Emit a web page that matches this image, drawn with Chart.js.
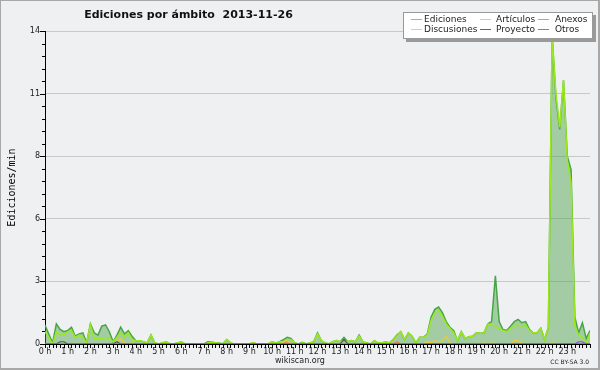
<!DOCTYPE html>
<html><head><meta charset="utf-8">
<script src="https://cdn.jsdelivr.net/npm/chart.js@4.4.0/dist/chart.umd.min.js"></script>
<style>
body{margin:0;background:#fff}
#wrap{position:relative;width:600px;height:370px;background:#eff0f1;overflow:hidden}
canvas{position:absolute;left:0;top:0}
.frame{position:absolute;left:0;top:0;width:600px;height:370px;box-sizing:border-box;border:1px solid #a8a8a8;border-right-width:2px;border-bottom-width:2px;pointer-events:none}
#title{position:absolute;left:60px;width:257px;top:8px;text-align:center;font:bold 11px "DejaVu Sans";line-height:14px;color:#111;white-space:pre}
#legend{position:absolute;left:403px;top:12px;width:188px;height:25px;background:#fff;border:1px solid #999;box-shadow:3px 3px 0 #9a9a9a}
.it{position:absolute;font:9px "DejaVu Sans";color:#222;line-height:10px;white-space:nowrap}
.ln{position:absolute;height:1px;width:11px}
#foot{position:absolute;left:200px;width:200px;top:356px;text-align:center;font:8px "DejaVu Sans";line-height:10px;color:#222}
#cc{position:absolute;right:11px;top:358px;font:6px "DejaVu Sans";line-height:8px;color:#222}
</style></head>
<body>
<div id="wrap">
<canvas id="c" width="600" height="370"></canvas>
<div id="title">Ediciones por ámbito  2013-11-26</div>
<div id="legend"></div>
<div id="foot">wikiscan.org</div>
<div id="cc">CC BY-SA 3.0</div>
<div class="frame"></div>
</div>
<script>
// 10-minute steps, 00:00 .. 24:00 (145 points)
const stepsPerHour = 6;
const yTickValues = [0, 2.8, 5.6, 8.4, 11.2, 14];
const hourLabelSuffix = ' h';

const ediciones = [
 0.85,0.45,0.05,0.9,0.65,0.55,0.6,0.75,0.35,0.45,0.5,0.05,
 0.9,0.5,0.4,0.8,0.85,0.55,0.1,0.4,0.75,0.45,0.6,0.35,
 0.15,0.15,0.1,0.05,0.4,0.05,0,0.05,0.1,0,0,0.05,
 0.1,0,0,0,0,0,0,0.1,0.1,0.05,0.05,0,
 0.2,0.05,0,0,0,0,0,0.05,0,0,0,0,
 0.1,0.05,0.1,0.2,0.3,0.25,0.05,0,0.08,0,0.05,0.1,
 0.5,0.15,0.05,0,0.1,0.15,0.1,0.3,0.1,0.15,0.1,0.4,
 0.1,0.05,0,0.15,0.05,0.05,0.1,0.05,0.2,0.4,0.55,0.2,
 0.5,0.35,0.05,0.3,0.3,0.45,1.2,1.55,1.65,1.4,1.0,0.75,
 0.6,0.15,0.55,0.25,0.33,0.35,0.5,0.48,0.5,0.9,1.0,3.05,
 1.0,0.65,0.6,0.8,1.0,1.1,0.95,1.0,0.65,0.5,0.5,0.7,
 0.2,0.75,13.8,11.0,9.6,11.8,8.4,7.8,1.2,0.5,0.95,0.25,
 0.6
];
const articulos = [
 0.55,0.3,0,0.55,0.4,0.4,0.55,0.6,0.3,0.4,0.3,0.05,
 0.85,0.25,0.25,0.25,0.3,0.25,0.1,0.3,0.5,0.3,0.5,0.2,
 0.15,0.15,0.1,0.05,0.4,0.05,0,0.05,0.1,0,0,0.05,
 0.1,0,0,0,0,0,0,0.05,0.1,0.05,0.05,0,
 0.2,0.05,0,0,0,0,0,0.05,0,0,0,0,
 0.1,0.05,0.1,0.1,0.2,0.2,0.05,0,0.05,0,0.05,0.1,
 0.45,0.15,0.05,0,0.1,0.15,0.1,0.15,0.1,0.15,0.1,0.35,
 0.1,0.05,0,0.15,0.05,0.05,0.1,0.05,0.2,0.35,0.55,0.2,
 0.5,0.35,0.05,0.3,0.3,0.4,1.05,1.4,1.5,1.25,0.9,0.7,
 0.5,0.15,0.55,0.25,0.33,0.35,0.5,0.48,0.5,0.9,0.85,0.8,
 0.7,0.6,0.55,0.7,0.8,0.85,0.8,0.85,0.6,0.5,0.5,0.7,
 0.2,0.75,13.7,11.2,9.7,11.8,8.2,7.2,0.8,0.4,0.3,0,
 0.5
];
const anexos = [
 0,0,0,0,0,0,0,0,0,0,0,0,
 0,0,0,0,0,0,0,0,0,0,0,0,
 0,0,0,0,0,0,0,0,0,0,0,0,
 0,0,0,0,0,0,0,0,0,0,0,0,
 0,0,0,0,0,0,0,0,0,0,0,0,
 0,0,0,0,0.1,0,0,0,0,0,0,0,
 0,0,0,0,0,0,0,0,0,0,0,0,
 0,0,0,0,0,0,0,0,0,0.1,0,0,
 0,0,0,0,0,0,0,0,0,0,0,0,
 0,0,0,0,0,0,0,0,0,0,0,0,
 0,0,0,0,0,0,0,0,0,0,0,0,
 0,0,0,0,0,0,0,0,0,0,0,0,
 0
];
const discusiones = [
 0,0,0,0,0,0,0,0,0,0,0,0,
 0,0,0,0,0,0,0,0.1,0.25,0.05,0,0.05,
 0,0,0,0,0,0,0,0,0,0,0,0,
 0,0,0,0,0,0,0,0,0,0,0,0,
 0,0,0,0,0,0,0,0,0,0,0,0,
 0,0,0,0.1,0.15,0,0,0,0,0,0,0,
 0,0,0,0,0,0,0,0,0,0,0,0,
 0,0,0,0,0,0,0,0,0,0,0,0,
 0,0,0,0,0,0.1,0.05,0.15,0.1,0.15,0.35,0.05,
 0,0,0,0,0,0,0,0,0.05,0,0.05,0,
 0,0,0,0,0.15,0.15,0,0,0,0,0,0,
 0,0,0.05,0,0,0,0,0,0,0,0,0,
 0
];
const proyecto = [
 0,0,0,0,0.1,0.1,0,0,0,0,0,0,
 0,0,0,0,0,0,0,0.1,0,0,0,0,
 0,0,0,0,0,0,0,0,0,0,0,0,
 0,0,0,0,0,0,0,0,0,0,0,0,
 0,0,0,0,0,0,0,0,0,0,0,0,
 0,0,0,0,0,0,0,0,0,0,0,0,
 0,0,0,0,0,0,0,0.2,0,0,0,0,
 0,0,0,0,0,0,0,0,0,0,0,0,
 0,0,0,0,0,0,0,0,0,0,0,0,
 0,0,0,0,0,0,0,0,0,0,0,0,
 0,0,0,0,0,0,0,0,0,0,0,0,
 0,0,0,0,0,0,0,0,0,0,0,0,
 0
];
const otros = [
 0,0,0,0,0,0,0,0,0,0,0,0,
 0,0,0,0,0,0,0,0,0,0,0,0,
 0,0,0,0,0,0,0,0,0,0,0,0,
 0,0,0,0,0,0,0,0,0,0,0,0,
 0,0,0,0,0,0,0,0,0,0,0,0,
 0,0,0,0,0,0,0,0,0,0,0,0,
 0,0,0,0,0,0,0,0,0,0,0,0,
 0,0,0,0,0,0,0,0,0,0,0,0,
 0,0,0,0,0,0,0,0,0,0,0,0,
 0,0,0,0,0,0,0,0,0,0,0,0,
 0,0,0,0,0,0,0,0,0,0,0,0,
 0,0,0,0,0,0,0,0,0,0.1,0.1,0,
 0
];

const seriesNames = ['Ediciones','Artículos','Anexos','Discusiones','Proyecto','Otros'];
const seriesColors = ['#46a546','#9be81c','#f07a4a','#f0c83a','#555555','#9146f0'];
const legendColors = ['#7fc97f','#b4f050','#f0906a','#f0d060','#666666','#a060f0'];
const seriesData = [ediciones, articulos, anexos, discusiones, proyecto, otros];

function pts(arr){ return arr.map((v,i)=>({x:i/stepsPerHour, y:v})); }

const datasets = seriesData.map((arr,k)=>({
  label: seriesNames[k],
  data: pts(arr),
  borderColor: seriesColors[k],
  borderWidth: k<2 ? 1.5 : 1.2,
  pointRadius: 0,
  tension: 0,
  fill: k===0 ? 'origin' : false,
  backgroundColor: k===0 ? 'rgba(70,160,70,0.45)' : 'transparent',
  order: k===0 ? 10 : (k===1 ? 9 : 6-k)
}));

// legend (3 columns x 2 rows, as in the original)
const legend = document.getElementById('legend');
const colX = [[7,20],[76,92],[134,151]];
const rowY = [6,16];
seriesNames.forEach((n,k)=>{
  const c = k%3, r = Math.floor(k/3);
  const ln = document.createElement('div'); ln.className='ln';
  ln.style.left = colX[c][0]+'px'; ln.style.top = rowY[r]+'px'; ln.style.background = legendColors[k];
  const t = document.createElement('div'); t.className='it';
  t.style.left = colX[c][1]+'px'; t.style.top = (rowY[r]-5)+'px'; t.textContent = n;
  legend.appendChild(ln); legend.appendChild(t);
});

const tickPlugin = {
  id:'ticks',
  afterDraw(chart){
    const ctx=chart.ctx, x=chart.scales.x, y=chart.scales.y, a=chart.chartArea;
    ctx.save(); ctx.strokeStyle='#000'; ctx.lineWidth=1; ctx.beginPath();
    for(let k=0;k<=24*stepsPerHour;k++){
      const px=Math.round(x.getPixelForValue(k/stepsPerHour))+0.5;
      ctx.moveTo(px,a.bottom); ctx.lineTo(px,a.bottom+4);
    }
    for(let j=0;j<yTickValues.length;j++){
      const py=Math.round(y.getPixelForValue(yTickValues[j]))+0.5;
      ctx.moveTo(a.left-5,py); ctx.lineTo(a.left,py);
      if(j<yTickValues.length-1){
        const st=(yTickValues[j+1]-yTickValues[j])/5;
        for(let m=1;m<5;m++){
          const q=Math.round(y.getPixelForValue(yTickValues[j]+m*st))+0.5;
          ctx.moveTo(a.left-3,q); ctx.lineTo(a.left,q);
        }
      }
    }
    ctx.stroke(); ctx.restore();
  }
};

new Chart(document.getElementById('c'), {
  type:'line',
  data:{datasets},
  options:{
    responsive:false, animation:false, devicePixelRatio:1,
    layout:{padding:{top:31,right:10,left:0,bottom:0}},
    plugins:{legend:{display:false}, tooltip:{enabled:false}},
    scales:{
      x:{type:'linear', min:0, max:24,
        afterFit(s){ s.height=26; },
        grid:{display:false, drawTicks:false},
        border:{display:true,color:'#000',width:1},
        ticks:{stepSize:1, autoSkip:false, maxRotation:0, padding:3, color:'#222',
          font:{family:'DejaVu Sans', size:8},
          callback:v=> v<24 ? v+hourLabelSuffix : ''}
      },
      y:{min:0, max:14,
        afterFit(s){ s.width=45; },
        afterBuildTicks(s){ s.ticks = yTickValues.map(v=>({value:v})); },
        grid:{color:'#c8c8c8', drawTicks:false, lineWidth:1},
        border:{display:true,color:'#000',width:1},
        ticks:{padding:5, color:'#222', font:{family:'DejaVu Sans', size:8},
          callback:v=>String(Math.round(v))},
        title:{display:true, text:'Ediciones/min', color:'#000',
          font:{family:'DejaVu Sans Mono', size:10}, padding:{top:6,bottom:0}}
      }
    }
  },
  plugins:[tickPlugin]
});
</script>
</body></html>
